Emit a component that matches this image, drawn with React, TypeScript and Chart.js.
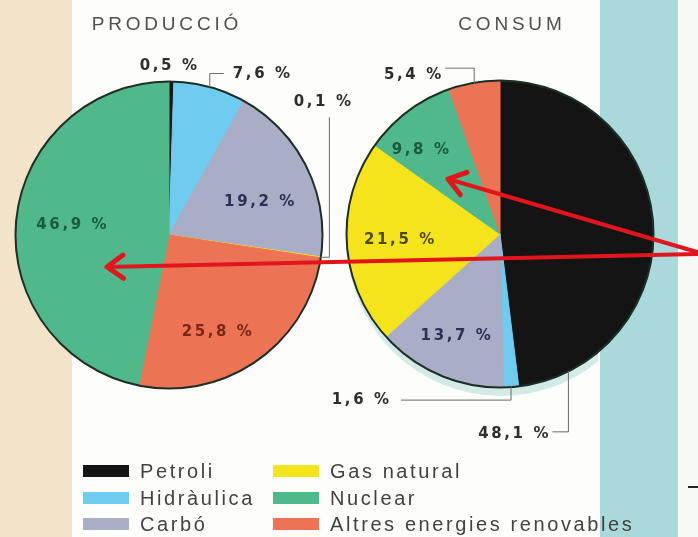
import React, { useEffect, useRef } from "react";
import { Chart, registerables } from "chart.js";

Chart.register(...registerables);

// ---------- DATA ----------
const categories = ["Petroli", "Hidràulica", "Carbó", "Gas natural", "Nuclear", "Altres energies renovables"];
const titles = ["PRODUCCIÓ", "CONSUM"];
const productionLabels = ["Petroli", "Hidràulica", "Carbó", "Gas natural", "Altres energies renovables", "Nuclear"];
const productionValues = [0.5, 7.6, 19.2, 0.1, 25.8, 46.9];
const consumptionLabels = ["Petroli", "Hidràulica", "Carbó", "Gas natural", "Nuclear", "Altres energies renovables"];
const consumptionValues = [48.1, 1.6, 13.7, 21.5, 9.8, 5.4];

// ---------- STYLE / LAYOUT ----------
const W = 698;
const H = 537;
const FONT = '"Liberation Sans", Arial, sans-serif';
const LABEL_FONT = '"DejaVu Sans", "Liberation Sans", sans-serif';

const palette: Record<string, string> = {
  "Petroli": "#141414",
  "Hidràulica": "#6fcbef",
  "Carbó": "#a9adc6",
  "Gas natural": "#f5e41c",
  "Nuclear": "#50b98b",
  "Altres energies renovables": "#ec7455",
};
const inkInside: Record<string, string> = {
  "Carbó": "#2b3152",
  "Nuclear": "#1c5a3c",
  "Altres energies renovables": "#7b2616",
  "Gas natural": "#4e4a0c",
};

type Leader = { frac: number; path: [string, number][]; align: string; gap: number; dx: number; dy: number; line: boolean };

const productionLeaders: Record<string, Leader> = {
  "Petroli": { frac: 0.5, path: [["v", -16]], align: "center", gap: 0, dx: -3, dy: 0, line: false },
  "Hidràulica": { frac: 0.5, path: [["v", -14], ["h", 14]], align: "left", gap: 9, dx: 0, dy: 1, line: true },
  "Gas natural": { frac: 0.5, path: [["h", 9], ["v", -140]], align: "center", gap: 0, dx: -7, dy: -15, line: true },
};
const consumptionLeaders: Record<string, Leader> = {
  "Altres energies renovables": { frac: 0.5, path: [["v", -15], ["h", -29]], align: "right", gap: 4, dx: 0, dy: 7, line: true },
  "Hidràulica": { frac: 0.5, path: [["v", 13.5], ["h", -110]], align: "right", gap: 12, dx: 0, dy: 0, line: true },
  "Petroli": { frac: 0.887, path: [["v", 61], ["h", -16]], align: "right", gap: 4, dx: 0, dy: 2, line: true },
};
const productionNudge: Record<string, [number, number]> = {
  "Carbó": [-3, 13],
  "Altres energies renovables": [-12, 12],
  "Nuclear": [6, 0],
};
const consumptionNudge: Record<string, [number, number]> = {
  "Nuclear": [-17, -1],
  "Gas natural": [3, 0],
  "Carbó": [-3, 7],
};

// arrows drawn on top (annotation), from / to
const arrows = [
  { from: [697, 254], to: [107, 267] },
  { from: [697, 252], to: [448, 179] },
];

const fmt = (v: number) => v.toFixed(1).replace(".", ",") + " %";

function drawSpaced(ctx: CanvasRenderingContext2D, text: string, x: number, y: number, align: string, spacing: number) {
  (ctx as any).letterSpacing = spacing + "px";
  ctx.textAlign = "left";
  const w = ctx.measureText(text).width - spacing;
  let left = x;
  if (align === "center") left = x - w / 2;
  else if (align === "right") left = x - w;
  ctx.fillText(text, left, y);
  (ctx as any).letterSpacing = "0px";
}

function drawBackground(ctx: CanvasRenderingContext2D) {
  ctx.save();
  ctx.fillStyle = "#fdfdfb";
  ctx.fillRect(0, 0, W, H);
  ctx.fillStyle = "#f2e3c9";
  ctx.fillRect(0, 0, 72, H);
  ctx.fillStyle = "#a9d9da";
  ctx.fillRect(600, 0, 78, H);
  ctx.fillStyle = "#f6f9f4";
  ctx.fillRect(678, 0, 20, H);
  ctx.strokeStyle = "#222";
  ctx.lineWidth = 2;
  ctx.beginPath();
  ctx.moveTo(688, 487);
  ctx.lineTo(698, 487);
  ctx.stroke();
  ctx.restore();
}

function drawLegend(ctx: CanvasRenderingContext2D) {
  ctx.save();
  const cols = [83, 273];
  const rows = [471, 498, 524];
  ctx.font = `20px ${FONT}`;
  ctx.textBaseline = "middle";
  categories.forEach((c, i) => {
    const col = Math.floor(i / 3);
    const row = i % 3;
    const x = cols[col];
    const y = rows[row];
    ctx.fillStyle = palette[c];
    ctx.fillRect(x, y - 6, 46, 12);
    ctx.fillStyle = "#424242";
    drawSpaced(ctx, c, x + 57, y + 1, "left", 2.6);
  });
  ctx.restore();
}

function drawArrow(ctx: CanvasRenderingContext2D, from: number[], to: number[]) {
  const [x0, y0] = from;
  const [x1, y1] = to;
  const ang = Math.atan2(y1 - y0, x1 - x0);
  ctx.save();
  ctx.strokeStyle = "#e1161d";
  ctx.lineCap = "round";
  ctx.lineJoin = "round";
  ctx.lineWidth = 4;
  ctx.beginPath();
  ctx.moveTo(x0, y0);
  ctx.lineTo(x1, y1);
  ctx.stroke();
  ctx.lineWidth = 5;
  const L = 20;
  const spread = 0.62;
  ctx.beginPath();
  ctx.moveTo(x1 - L * Math.cos(ang - spread), y1 - L * Math.sin(ang - spread));
  ctx.lineTo(x1, y1);
  ctx.lineTo(x1 - L * Math.cos(ang + spread), y1 - L * Math.sin(ang + spread));
  ctx.stroke();
  ctx.restore();
}

function makeDecor(opts: {
  id: string;
  labels: string[];
  values: number[];
  leaders: Record<string, Leader>;
  nudge: Record<string, [number, number]>;
  title: string;
  titleDx: number;
  background: boolean;
  shadow: boolean;
  legend: boolean;
  arrows: boolean;
}) {
  return {
    id: opts.id,
    beforeDraw(chart: any) {
      if (opts.background) drawBackground(chart.ctx);
    },
    beforeDatasetsDraw(chart: any) {
      if (!opts.shadow) return;
      const arc = chart.getDatasetMeta(0).data[0];
      const { x, y, outerRadius } = arc.getProps(["x", "y", "outerRadius"], true);
      const ctx = chart.ctx;
      ctx.save();
      ctx.beginPath();
      ctx.rect(0, 0, 598, H);
      ctx.clip();
      ctx.fillStyle = "#d3ebe7";
      ctx.beginPath();
      ctx.arc(x + 1, y + 8, outerRadius + 1, 0, Math.PI * 2);
      ctx.fill();
      ctx.restore();
    },
    afterDatasetsDraw(chart: any) {
      const ctx: CanvasRenderingContext2D = chart.ctx;
      const arcs = chart.getDatasetMeta(0).data;
      const p0 = arcs[0].getProps(["x", "y", "outerRadius"], true);
      // outline
      ctx.save();
      ctx.strokeStyle = "#1d2f25";
      ctx.lineWidth = 2;
      ctx.beginPath();
      ctx.arc(p0.x, p0.y, p0.outerRadius + 0.5, 0, Math.PI * 2);
      ctx.stroke();
      ctx.restore();

      // title
      ctx.save();
      ctx.font = `19px ${FONT}`;
      ctx.fillStyle = "#505050";
      ctx.textBaseline = "middle";
      drawSpaced(ctx, opts.title, p0.x + opts.titleDx, 25, "center", 3.8);
      ctx.restore();

      // labels
      ctx.save();
      ctx.font = `bold 15px ${LABEL_FONT}`;
      ctx.textBaseline = "middle";
      arcs.forEach((arc: any, i: number) => {
        const cat = opts.labels[i];
        const text = fmt(opts.values[i]);
        const { x, y, startAngle, endAngle, outerRadius } = arc.getProps(
          ["x", "y", "startAngle", "endAngle", "outerRadius"],
          true
        );
        const ld = opts.leaders[cat];
        if (ld) {
          const a = startAngle + ld.frac * (endAngle - startAngle);
          let px = x + outerRadius * Math.cos(a);
          let py = y + outerRadius * Math.sin(a);
          ctx.strokeStyle = "#6a6a6a";
          ctx.lineWidth = 1;
          ctx.beginPath();
          ctx.moveTo(px, py);
          ld.path.forEach(([d, n]) => {
            if (d === "v") py += n;
            else px += n;
            ctx.lineTo(px, py);
          });
          if (ld.line) ctx.stroke();
          let lx = px + ld.dx;
          if (ld.align === "left") lx = px + ld.gap;
          if (ld.align === "right") lx = px - ld.gap;
          ctx.fillStyle = "#2e2e2e";
          drawSpaced(ctx, text, lx, py + ld.dy, ld.align, 2.6);
        } else {
          const a = (startAngle + endAngle) / 2;
          const r = outerRadius * 0.68;
          const nd = opts.nudge[cat] || [0, 0];
          ctx.fillStyle = inkInside[cat] || "#222";
          drawSpaced(ctx, text, x + r * Math.cos(a) + nd[0], y + r * Math.sin(a) + nd[1], "center", 2.6);
        }
      });
      ctx.restore();
    },
    afterDraw(chart: any) {
      if (opts.legend) drawLegend(chart.ctx);
      if (opts.arrows) arrows.forEach((ar) => drawArrow(chart.ctx, ar.from, ar.to));
    },
  };
}

function pieConfig(labels: string[], values: number[], padding: any, plugin: any): any {
  return {
    type: "pie",
    data: {
      labels,
      datasets: [
        {
          data: values,
          backgroundColor: labels.map((l) => palette[l]),
          borderColor: labels.map((l) => palette[l]),
          borderWidth: 1,
          radius: 153,
          hoverOffset: 0,
        },
      ],
    },
    options: {
      responsive: false,
      animation: false,
      events: [],
      layout: { padding },
      plugins: { legend: { display: false }, tooltip: { enabled: false } },
    },
    plugins: [plugin],
  };
}

export default function App() {
  const prodRef = useRef<HTMLCanvasElement>(null);
  const consRef = useRef<HTMLCanvasElement>(null);

  useEffect(() => {
    const c1 = new Chart(
      prodRef.current!,
      pieConfig(
        productionLabels,
        productionValues,
        { left: 9, right: 369, top: 75, bottom: 142 },
        makeDecor({
          id: "prodDecor",
          labels: productionLabels,
          values: productionValues,
          leaders: productionLeaders,
          nudge: productionNudge,
          title: titles[0],
          titleDx: -4,
          background: true,
          shadow: false,
          legend: true,
          arrows: false,
        })
      )
    );
    const c2 = new Chart(
      consRef.current!,
      pieConfig(
        consumptionLabels,
        consumptionValues,
        { left: 340, right: 38, top: 74, bottom: 143 },
        makeDecor({
          id: "consDecor",
          labels: consumptionLabels,
          values: consumptionValues,
          leaders: consumptionLeaders,
          nudge: consumptionNudge,
          title: titles[1],
          titleDx: 10,
          background: false,
          shadow: true,
          legend: false,
          arrows: true,
        })
      )
    );
    return () => {
      c1.destroy();
      c2.destroy();
    };
  }, []);

  return (
    <div style={{ position: "absolute", left: 0, top: 0, width: W, height: H }}>
      <canvas ref={prodRef} width={W} height={H} style={{ position: "absolute", left: 0, top: 0 }} />
      <canvas ref={consRef} width={W} height={H} style={{ position: "absolute", left: 0, top: 0 }} />
    </div>
  );
}
